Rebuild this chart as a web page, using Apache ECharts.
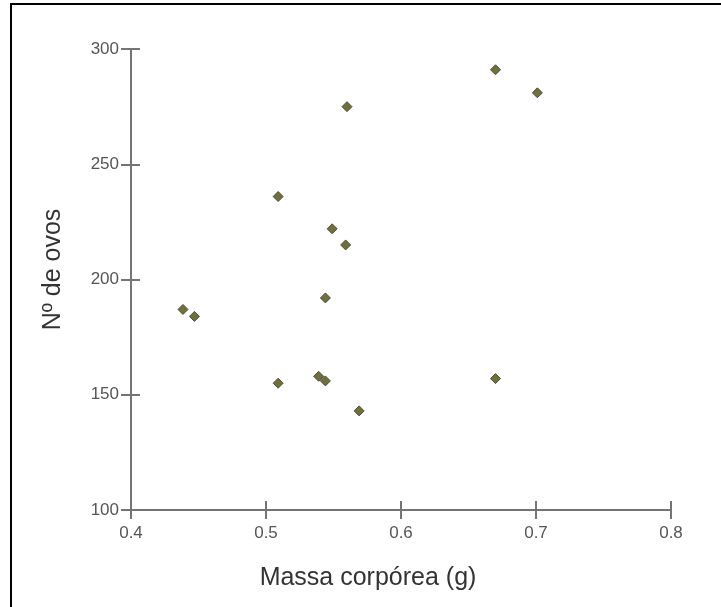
<!DOCTYPE html>
<html>
<head>
<meta charset="utf-8">
<script src="https://cdn.jsdelivr.net/npm/echarts@6/dist/echarts.min.js"></script>
<style>
html,body{margin:0;padding:0;background:#fff;}
#frame{position:absolute;left:10px;top:3px;width:711px;height:604px;border-top:2px solid #000;border-left:2px solid #000;box-sizing:border-box;}
#chart{position:absolute;left:0;top:0;width:721px;height:607px;}
</style>
</head>
<body>
<div id="frame"></div>
<div id="chart"></div>
<script>
// Data
var massa = [0.4385, 0.447, 0.509, 0.509, 0.549, 0.560, 0.559, 0.544, 0.539, 0.544, 0.569, 0.670, 0.701, 0.670];
var ovos  = [187,    184,   236,   155,   222,   275,   215,   192,   158,   156,   143,   291,   281,   157];
var xTicks = [0.4, 0.5, 0.6, 0.7, 0.8];
var yTicks = [100, 150, 200, 250, 300];
var xName = 'Massa corpórea (g)';
var yName = 'Nº de ovos';

var points = massa.map(function (m, i) { return [m, ovos[i]]; });

var axisColor = '#747474';
var labelColor = '#555';
var font = 'Liberation Sans, Arial, sans-serif';

function baseX(extra) {
  return Object.assign({
    type: 'value', min: xTicks[0], max: xTicks[xTicks.length - 1], interval: 0.1,
    position: 'bottom', splitLine: { show: false }
  }, extra);
}
function baseY(extra) {
  return Object.assign({
    type: 'value', min: yTicks[0], max: yTicks[yTicks.length - 1], interval: 50,
    position: 'left', splitLine: { show: false }
  }, extra);
}

var chart = echarts.init(document.getElementById('chart'), null, { renderer: 'canvas' });
chart.setOption({
  animation: false,
  backgroundColor: 'transparent',
  grid: { left: 131, right: 50, top: 49, bottom: 97, containLabel: false },
  xAxis: [
    baseX({
      name: xName, nameLocation: 'middle', nameGap: 56,
      nameTextStyle: { fontSize: 25, color: '#333', fontFamily: font, padding: [0, 66, 0, 0] },
      axisLine: { onZero: false, lineStyle: { color: axisColor, width: 2 } },
      axisTick: { show: true, inside: false, length: 9, lineStyle: { color: axisColor, width: 2 } },
      axisLabel: { color: labelColor, fontSize: 17, fontFamily: font, margin: 15,
        formatter: function (v) { return v.toFixed(1); } }
    }),
    baseX({
      axisLine: { show: false, onZero: false },
      axisTick: { show: true, inside: true, length: 9, lineStyle: { color: axisColor, width: 2 } },
      axisLabel: { show: false }
    })
  ],
  yAxis: [
    baseY({
      name: yName, nameLocation: 'middle', nameGap: 65, nameRotate: 90,
      nameTextStyle: { fontSize: 25, color: '#333', fontFamily: font, padding: [0, 0, 0, 20] },
      axisLine: { onZero: false, lineStyle: { color: axisColor, width: 2 } },
      axisTick: { show: true, inside: false, length: 10, lineStyle: { color: axisColor, width: 2 } },
      axisLabel: { color: labelColor, fontSize: 17, fontFamily: font, margin: 12 }
    }),
    baseY({
      axisLine: { show: false, onZero: false },
      axisTick: { show: true, inside: true, length: 9, lineStyle: { color: axisColor, width: 2 } },
      axisLabel: { show: false }
    })
  ],
  series: [{
    type: 'scatter',
    xAxisIndex: 0, yAxisIndex: 0,
    symbol: 'diamond',
    symbolSize: 10,
    itemStyle: { color: '#707038', borderColor: '#4a4a4a', borderWidth: 1, opacity: 1 },
    data: points
  }]
});
</script>
</body>
</html>
